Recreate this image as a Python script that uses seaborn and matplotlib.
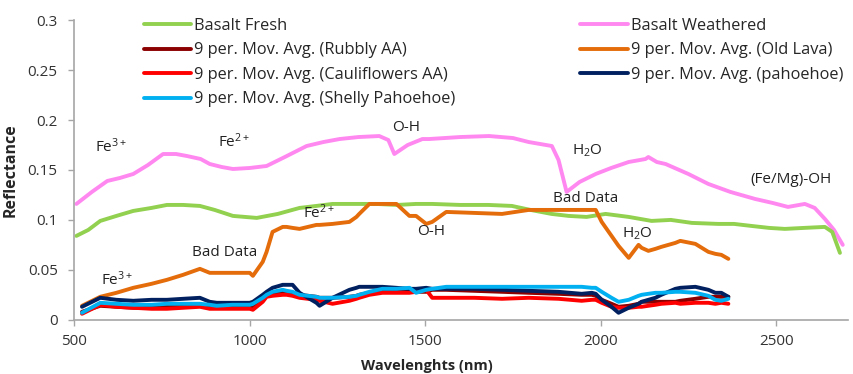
import matplotlib
matplotlib.use("Agg")
import matplotlib.pyplot as plt
import seaborn as sns
from matplotlib.ticker import FormatStrFormatter

# spectra (wavelength nm, reflectance)
fresh_x = [506, 540, 574, 620, 668, 720, 764, 810, 858, 900, 952, 1020, 1080, 1142, 1190, 1236, 1300,
           1360, 1420, 1474, 1520, 1600, 1680, 1747, 1800, 1860, 1909, 1960, 2014, 2080, 2145, 2200,
           2260, 2335, 2380, 2429, 2480, 2525, 2580, 2639, 2660, 2682]
fresh_y = [0.084, 0.090, 0.099, 0.104, 0.109, 0.112, 0.115, 0.115, 0.114, 0.110, 0.104, 0.102, 0.106,
           0.112, 0.114, 0.116, 0.116, 0.116, 0.115, 0.116, 0.116, 0.115, 0.115, 0.114, 0.110, 0.106,
           0.104, 0.103, 0.106, 0.103, 0.099, 0.100, 0.097, 0.096, 0.096, 0.094, 0.092, 0.091, 0.092,
           0.093, 0.088, 0.067]

weathered_x = [506, 550, 594, 630, 668, 710, 753, 790, 821, 860, 886, 920, 952, 1000, 1048, 1100, 1162,
               1210, 1256, 1310, 1369, 1395, 1412, 1450, 1492, 1511, 1600, 1682, 1750, 1795, 1861,
               1880, 1903, 1940, 1986, 2030, 2080, 2128, 2136, 2160, 2185, 2250, 2307, 2370, 2440,
               2490, 2534, 2582, 2610, 2639, 2665, 2690]
weathered_y = [0.116, 0.128, 0.139, 0.142, 0.146, 0.155, 0.166, 0.166, 0.164, 0.161, 0.156, 0.153,
               0.151, 0.152, 0.154, 0.163, 0.174, 0.178, 0.181, 0.183, 0.184, 0.180, 0.166, 0.175,
               0.181, 0.181, 0.183, 0.184, 0.182, 0.178, 0.174, 0.160, 0.128, 0.138, 0.146, 0.152,
               0.158, 0.161, 0.163, 0.158, 0.156, 0.146, 0.136, 0.128, 0.121, 0.117, 0.113, 0.116,
               0.112, 0.101, 0.090, 0.075]

avg_x = [522, 574, 620, 668, 720, 764, 810, 858, 886, 906, 950, 1000, 1009, 1037, 1048, 1065, 1094,
         1105, 1122, 1142, 1190, 1199, 1236, 1284, 1304, 1312, 1341, 1378, 1418, 1455, 1474, 1503,
         1520, 1560, 1640, 1719, 1795, 1880, 1946, 1975, 1986, 2003, 2031, 2051, 2080, 2108, 2117,
         2136, 2156, 2173, 2213, 2227, 2270, 2307, 2327, 2344, 2364]

old_lava_y = [0.014, 0.023, 0.027, 0.032, 0.036, 0.040, 0.045, 0.051, 0.047, 0.047, 0.047, 0.047,
              0.044, 0.058, 0.068, 0.088, 0.093, 0.093, 0.092, 0.091, 0.095, 0.095, 0.096, 0.098,
              0.103, 0.106, 0.116, 0.116, 0.116, 0.104, 0.104, 0.096, 0.098, 0.108, 0.107, 0.106,
              0.110, 0.110, 0.110, 0.110, 0.110, 0.098, 0.084, 0.074, 0.062, 0.075, 0.072, 0.069,
              0.071, 0.073, 0.077, 0.079, 0.076, 0.068, 0.066, 0.065, 0.061]
rubbly_y = [0.008, 0.014, 0.013, 0.012, 0.012, 0.013, 0.013, 0.014, 0.012, 0.012, 0.012, 0.012, 0.012,
            0.020, 0.025, 0.027, 0.028, 0.028, 0.026, 0.025, 0.023, 0.022, 0.022, 0.023, 0.024,
            0.025, 0.027, 0.028, 0.029, 0.029, 0.028, 0.028, 0.030, 0.030, 0.029, 0.028, 0.027,
            0.026, 0.025, 0.025, 0.024, 0.020, 0.016, 0.013, 0.014, 0.016, 0.018, 0.018, 0.018,
            0.018, 0.018, 0.019, 0.021, 0.023, 0.023, 0.023, 0.023]
cauliflower_y = [0.006, 0.015, 0.013, 0.012, 0.011, 0.011, 0.012, 0.013, 0.011, 0.011, 0.011, 0.011,
                 0.010, 0.018, 0.023, 0.024, 0.025, 0.025, 0.024, 0.022, 0.020, 0.019, 0.016, 0.019,
                 0.021, 0.022, 0.025, 0.027, 0.027, 0.027, 0.028, 0.030, 0.022, 0.022, 0.022, 0.021,
                 0.022, 0.021, 0.019, 0.020, 0.020, 0.017, 0.013, 0.012, 0.012, 0.013, 0.013, 0.014,
                 0.015, 0.016, 0.017, 0.016, 0.017, 0.017, 0.016, 0.017, 0.016]
pahoehoe_y = [0.013, 0.022, 0.020, 0.019, 0.020, 0.020, 0.021, 0.022, 0.018, 0.017, 0.017, 0.017,
              0.018, 0.025, 0.028, 0.032, 0.035, 0.035, 0.035, 0.027, 0.017, 0.014, 0.022, 0.030,
              0.032, 0.033, 0.033, 0.033, 0.032, 0.031, 0.031, 0.032, 0.031, 0.031, 0.031, 0.030,
              0.029, 0.028, 0.026, 0.027, 0.026, 0.020, 0.013, 0.007, 0.012, 0.016, 0.018, 0.020,
              0.022, 0.025, 0.031, 0.032, 0.033, 0.030, 0.027, 0.027, 0.023]
shelly_y = [0.007, 0.017, 0.016, 0.015, 0.015, 0.016, 0.016, 0.016, 0.015, 0.014, 0.015, 0.015, 0.016,
            0.022, 0.025, 0.028, 0.030, 0.029, 0.028, 0.025, 0.023, 0.022, 0.022, 0.023, 0.024,
            0.025, 0.028, 0.031, 0.031, 0.032, 0.027, 0.030, 0.031, 0.033, 0.033, 0.033, 0.033,
            0.033, 0.033, 0.032, 0.032, 0.028, 0.022, 0.018, 0.020, 0.024, 0.025, 0.026, 0.027,
            0.027, 0.028, 0.028, 0.027, 0.024, 0.020, 0.019, 0.021]

series = [
    ("Basalt Fresh", fresh_x, fresh_y, "#92d050"),
    ("9 per. Mov. Avg. (Rubbly AA)", avg_x, rubbly_y, "#8b0000"),
    ("9 per. Mov. Avg. (Cauliflowers AA)", avg_x, cauliflower_y, "#ff0000"),
    ("9 per. Mov. Avg. (Shelly Pahoehoe)", avg_x, shelly_y, "#00b0f0"),
    ("Basalt Weathered", weathered_x, weathered_y, "#ff88f0"),
    ("9 per. Mov. Avg. (Old Lava)", avg_x, old_lava_y, "#e46c0a"),
    ("9 per. Mov. Avg. (pahoehoe)", avg_x, pahoehoe_y, "#002060"),
]
draw_order = [4, 0, 5, 1, 2, 6, 3]

notes = [
    ("Fe$^{3+}$", 560, 0.173), ("Fe$^{2+}$", 909, 0.178), ("O-H", 1406, 0.193),
    ("H$_2$O", 1918, 0.169), ("(Fe/Mg)-OH", 2426, 0.140), ("Fe$^{2+}$", 1151, 0.107),
    ("O-H", 1477, 0.088), ("Bad Data", 1864, 0.121), ("H$_2$O", 2060, 0.086),
    ("Bad Data", 835, 0.067), ("Fe$^{3+}$", 577, 0.040),
]

sns.set_style("ticks")
plt.rcParams["font.family"] = ["Open Sans", "DejaVu Sans"]
plt.rcParams["mathtext.fontset"] = "custom"
plt.rcParams["mathtext.rm"] = "Open Sans"
plt.rcParams["mathtext.default"] = "rm"

fig, ax = plt.subplots(figsize=(8.54, 3.74), dpi=100)
fig.subplots_adjust(left=0.087, right=0.993, bottom=0.145, top=0.946)

handles = {}
for i in draw_order:
    name, xs, ys, col = series[i]
    sns.lineplot(x=xs, y=ys, color=col, linewidth=2.8, ax=ax, label=name, sort=False)
    handles[name] = ax.lines[-1]

for txt, x, y in notes:
    ax.text(x, y, txt, fontsize=11, color="#222222", va="center", ha="left")

ax.set_xlim(500, 2705)
ax.set_ylim(0, 0.3)
ax.set_xticks([500, 1000, 1500, 2000, 2500])
ax.set_yticks([0, 0.05, 0.1, 0.15, 0.2, 0.25, 0.3])
ax.yaxis.set_major_formatter(FormatStrFormatter("%g"))
ax.tick_params(labelsize=11, colors="#333333", length=4, width=1, color="#a6a6a6")
ax.tick_params(axis="y", pad=8)
ax.tick_params(axis="x", pad=6)
for s in ["top", "right"]:
    ax.spines[s].set_visible(False)
for s in ["left", "bottom"]:
    ax.spines[s].set_color("#a6a6a6")
    ax.spines[s].set_linewidth(1.2)

ax.set_xlabel("Wavelenghts (nm)", fontsize=10.5, fontweight="bold")
ax.xaxis.set_label_coords(0.456, -0.13)
ax.set_ylabel("Reflectance", fontsize=11.5, fontweight="bold")
ax.yaxis.set_label_coords(-0.072, 0.5)

names = [s[0] for s in series]
ax.legend([handles[n] for n in names], names, ncol=2, loc="upper left",
          bbox_to_anchor=(0.081, 1.03), frameon=False, fontsize=11.8,
          handlelength=2.9, handletextpad=0.2, columnspacing=7.6,
          labelspacing=0.52, borderaxespad=0)

plt.savefig("out.png", dpi=100)
plt.close("all")
